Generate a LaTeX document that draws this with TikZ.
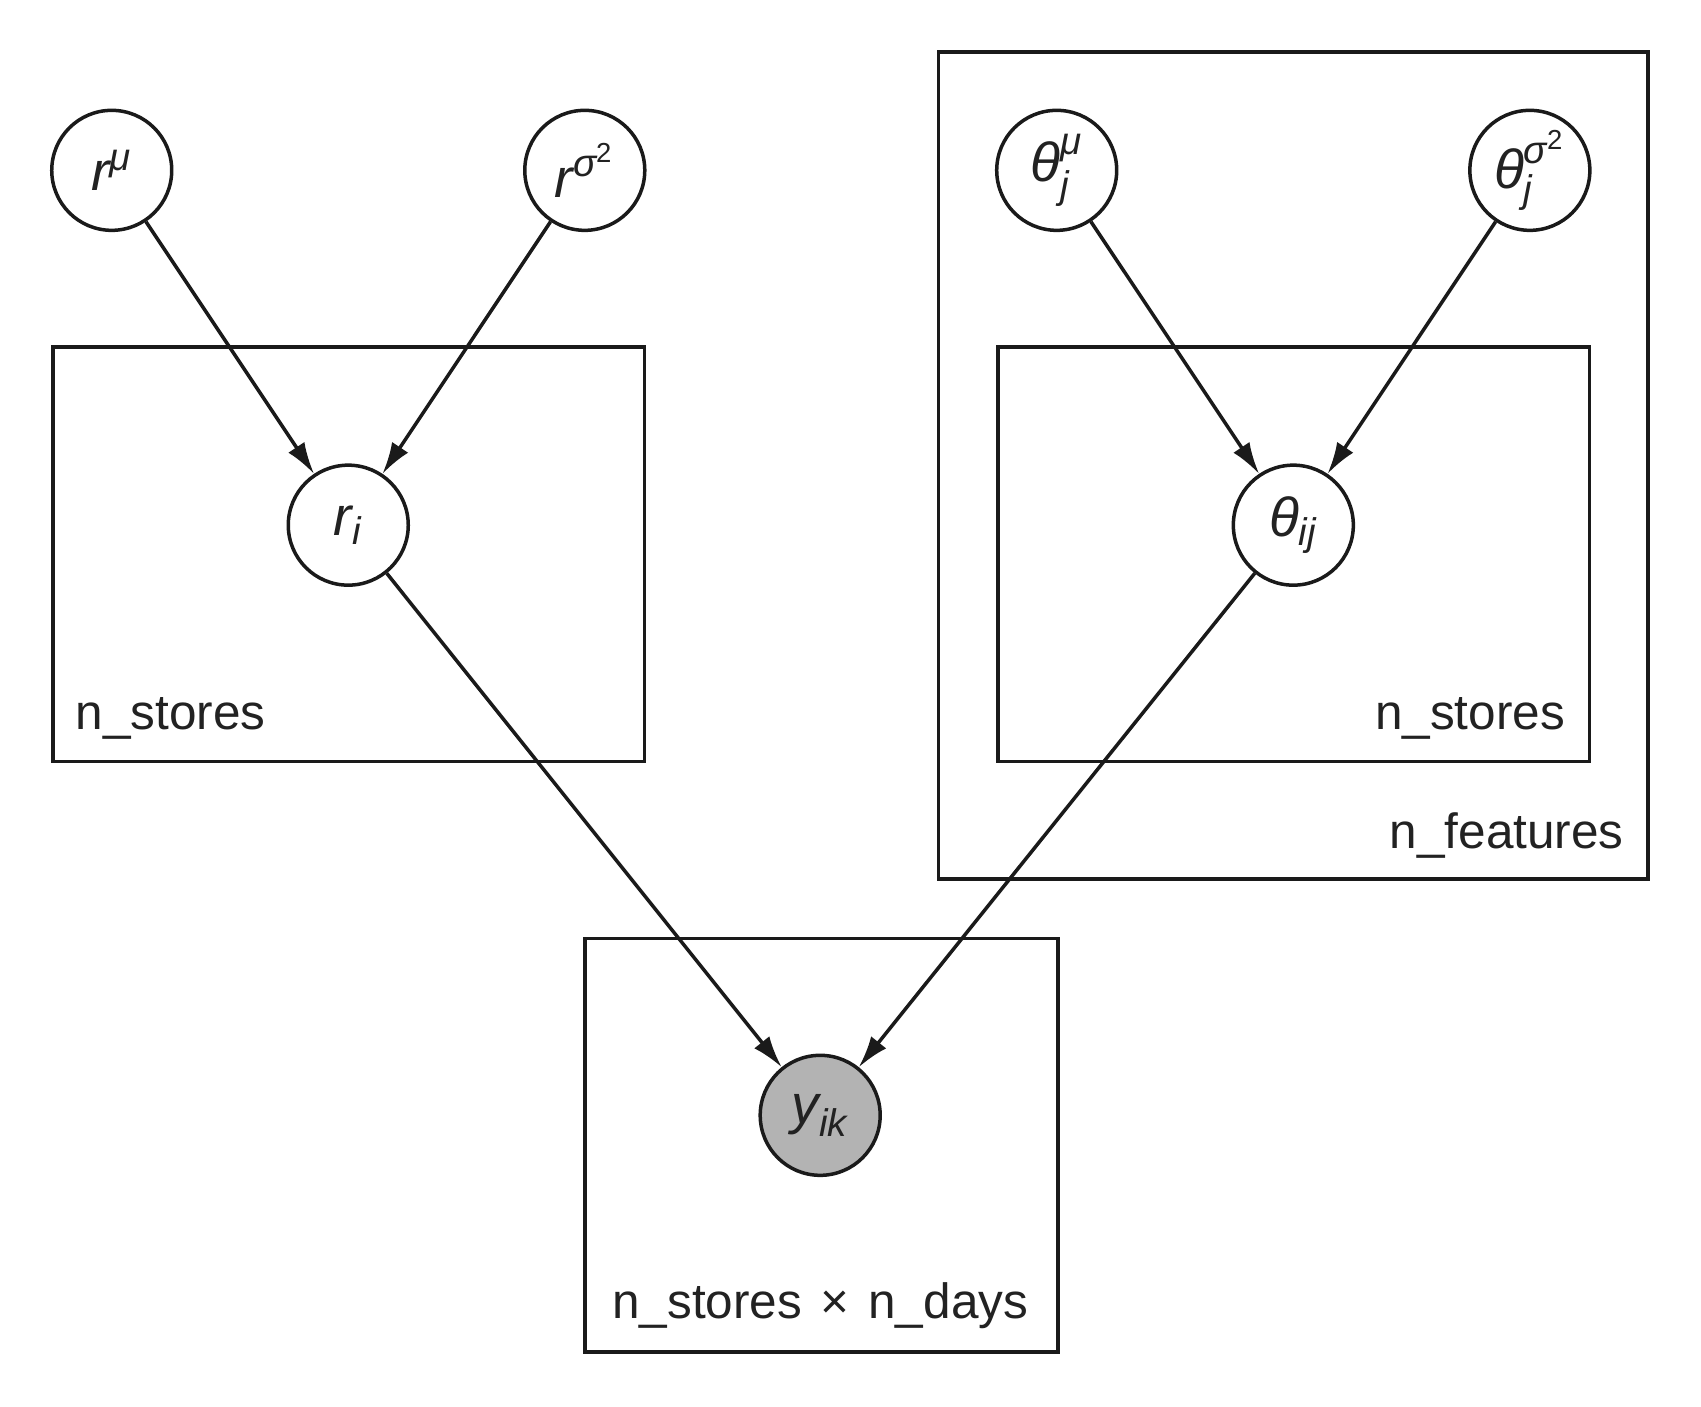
\documentclass[tikz,border=0pt]{standalone}
\usepackage{amsmath}
\usepackage{fontspec}
\setmainfont{Liberation Sans}
\usetikzlibrary{arrows.meta}
\definecolor{ink}{HTML}{1A1A1A}
\definecolor{txt}{HTML}{222222}
\definecolor{obs}{HTML}{B3B3B3}
\begin{document}
\begin{tikzpicture}[x=0.2985pt,y=-0.2985pt,
  var/.style={circle,draw=ink,line width=1.05pt,minimum size=36pt,inner sep=0pt,fill=white,font=\fontsize{16.5}{18}\selectfont,text=txt},
  obsvar/.style={var,fill=obs},
  plate/.style={draw=ink,line width=1.05pt},
  platelabel/.style={font=\fontsize{14.85}{18}\selectfont,text=txt,inner sep=0pt},
  edge/.style={draw=ink,line width=1.05pt,-{Latex[length=9.5pt,width=5.8pt]}}]
\useasboundingbox (0,0) rectangle (1709.5,1413.1);
% plates
\draw[plate] (53.4,348.9) rectangle (647.7,765.5);
\draw[plate] (943.2,52.3) rectangle (1656.1,883.2);
\draw[plate] (1003.2,348.9) rectangle (1597.4,765.5);
\draw[plate] (587.7,943.2) rectangle (1063.1,1358.6);
% plate labels
\node[platelabel,anchor=base west] (l1) at (75.2,733) {n\_stores};
\node[platelabel,anchor=base east] (l2) at (1573.5,733) {n\_stores};
\node[platelabel,anchor=base east] (l3) at (1632.4,853) {n\_features};
\node[platelabel,anchor=base] (l4) at (824.3,1325) {n\_stores\hspace{1.5pt} × \hspace{1.5pt}n\_days};
% variables
\node[var] (rmu) at (112.3,171.2) {$\textit{r}^{\textit{μ}}$};
\node[var] (rsig) at (587.7,171.2) {$\textit{r}^{\textit{σ}^{\text{2}}}$};
\node[var] (ri) at (350,527.8) {$\textit{r}_{\textit{i}}$};
\node[var] (thmu) at (1062,171.2) {$\textit{θ}^{\textit{μ}}_{\textit{j}}$};
\node[var] (thsig) at (1537.5,171.2) {$\textit{θ}^{\textit{σ}^{\text{2}}}_{\textit{j}}$};
\node[var] (thij) at (1299.8,527.8) {$\textit{θ}_{\textit{ij}}$};
\node[obsvar] (y) at (824.3,1120.9) {$\textit{y}_{\textit{ik}}$};
% edges
\draw[edge] (rmu) -- (ri);
\draw[edge] (rsig) -- (ri);
\draw[edge] (thmu) -- (thij);
\draw[edge] (thsig) -- (thij);
\draw[edge] (ri) -- (y);
\draw[edge] (thij) -- (y);
\end{tikzpicture}
\end{document}
